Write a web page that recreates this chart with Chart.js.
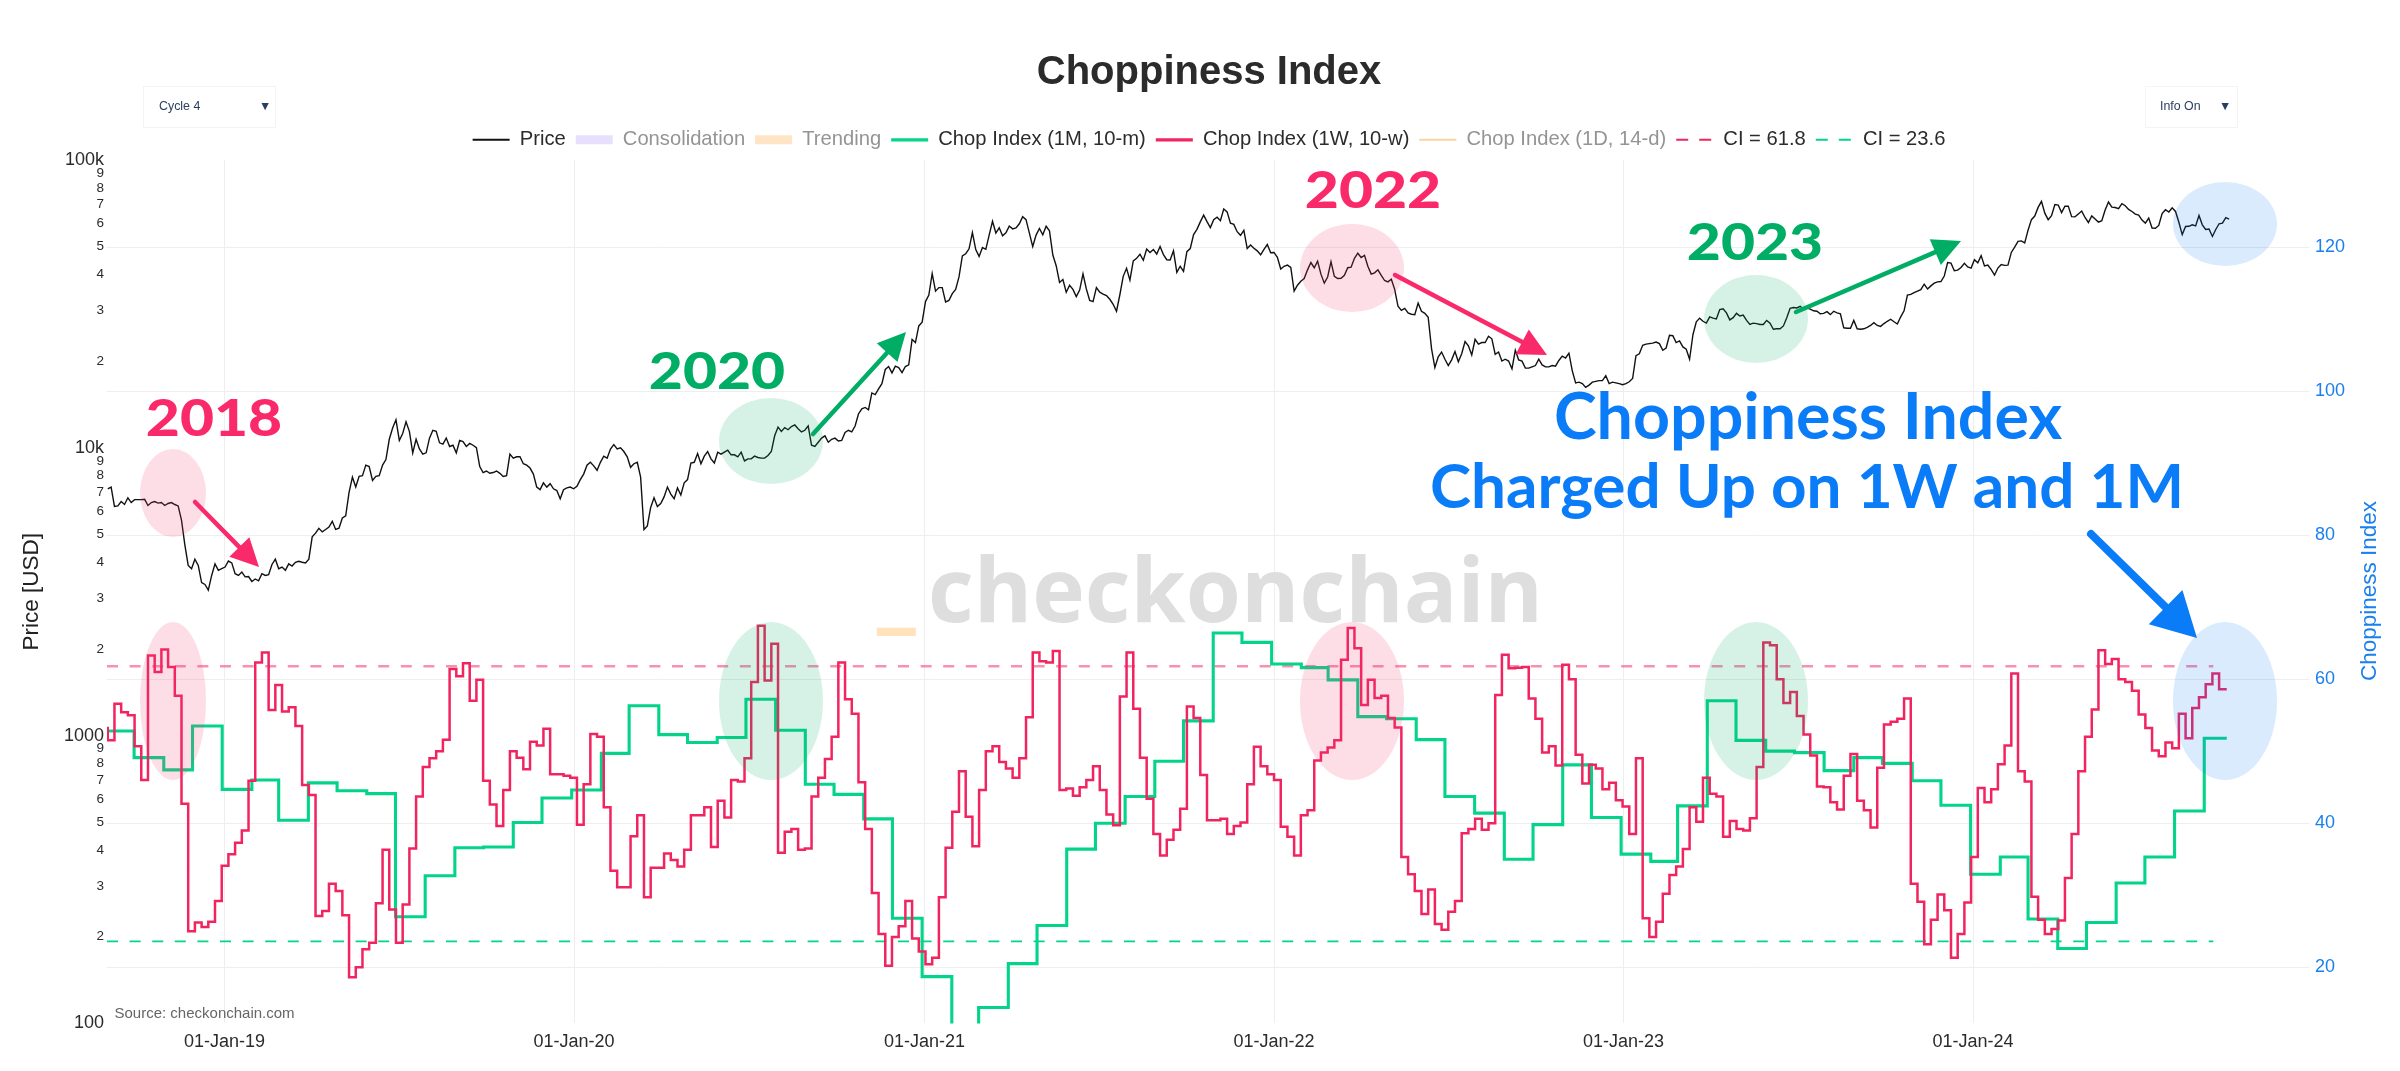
<!DOCTYPE html>
<html><head><meta charset="utf-8">
<style>html,body{margin:0;padding:0;background:#fff;overflow:hidden}canvas{display:block}</style>
<script src="https://cdn.jsdelivr.net/npm/chart.js@4/dist/chart.umd.js"></script>
</head><body><canvas id="c" width="2400" height="1071"></canvas>
<script>
// ---------- data ----------
const priceStart='2018-09-01'; // one value every 7 days from here
const priceWeekly=[7200,6250,6500,6700,6600,6600,6300,6500,6450,6400,6350,5600,3900,4100,3400,3200,3950,3800,
4040,3650,3700,3570,3500,3650,3620,4100,3850,3950,4000,4000,4100,5050,5100,5300,5200,5700,7000,7300,8000,8600,7950,8700,10700,12500,11200,11400,10700,9500,10800,11400,10300,10100,9600,10500,10350,10000,8200,8150,8300,7950,9500,9300,8800,8500,7300,7550,7500,7100,7150,7300,
7350,8100,8900,8350,9350,9900,9900,9700,8550,8900,5200,6200,6250,6750,6900,7250,7550,8850,9550,9350,9150,9650,9650,9450,9300,9000,9150,9250,9200,9700,11800,11750,11850,11650,11500,10200,10450,11000,10700,10550,11300,11350,13100,13800,15500,16000,18700,18200,19000,19150,23800,26500,
32200,40300,36000,32100,34300,39200,47200,55900,46200,48900,61200,58100,55800,57600,60000,62000,50000,57800,58800,46700,37500,34700,35500,35300,35600,32200,34700,33800,31500,34000,42000,44600,47000,49000,48800,50000,45000,48300,42700,48000,55000,60900,61000,62000,61500,66000,59700,54700,49200,49300,46800,50800,
47700,41800,43100,35000,37900,41500,42200,40100,39200,39400,38800,42200,45500,45800,42700,40500,39700,37700,35500,30000,29400,29000,29800,28400,19000,21500,19300,21600,21200,22600,23800,23200,24400,21100,20000,20000,21800,20000,18900,19300,19400,19100,19200,20800,21300,16800,16700,16500,17000,17100,16700,16800,16550,
16950,20900,22700,23000,23300,21800,24600,23200,22400,20300,27400,27500,28500,28000,30400,27800,29300,28900,26800,27000,26800,27100,25900,26500,30500,30600,30300,30300,29800,29300,29000,29400,26100,26000,25900,25900,26600,26600,27000,27950,26900,29900,34100,35000,37000,36500,37700,39500,43800,41400,43700,42100,
43900,42800,41600,42100,43000,47700,52100,51500,62000,68400,65300,64000,69700,69000,63500,64900,63100,63900,60800,67000,68500,67700,69300,66200,64300,60300,58000,59200,67100,68200,60700,58700,59500,64100,57300,54200,60000,63000];
// the value halfway through each of those weeks
const priceMidweek=[7300,6280,6350,6450,6600,6620,6450,6420,6300,6450,6280,4600,3800,3900,3350,3600,3750,3850,
3980,3600,3560,3430,3450,3600,3930,3800,3750,3880,4030,3980,4900,5250,5200,5550,5250,5800,7900,7950,8700,7700,8000,9100,11700,10600,12300,9600,9900,9600,11500,10400,10800,10200,10600,10100,10200,8600,8300,8200,8150,8000,9200,9300,8700,8100,7150,7300,7200,6650,7250,7200,
7750,8700,8650,8900,9200,10250,10000,9300,8800,7900,5350,6700,6400,7300,6650,6850,7750,8900,8800,9700,8850,9500,9800,9450,9650,9150,9350,9200,9400,11000,11400,11550,12000,11350,11900,10100,10800,10450,10800,10600,11500,11900,13650,13550,15300,16700,19150,19200,18250,19400,23200,27300,
33900,35000,36000,32500,35500,46400,49100,48800,49600,54800,55700,54500,58900,58000,63500,55700,54800,54900,56700,42900,38400,36700,33500,40200,32500,36000,34200,32800,29800,39400,38200,45500,44800,47700,47100,46900,44900,40700,41000,49200,57400,64300,58200,63200,67500,60300,56300,56900,50600,48300,48900,47600,
45900,42700,42300,36700,38700,44000,44500,37300,44300,38700,39700,42400,47400,46600,40100,41500,38100,38500,31000,30500,29100,31800,29300,22100,20700,20300,20200,19900,23400,21000,22900,23200,23900,21500,20300,18800,20200,18900,19100,20300,19100,19300,20100,20500,18500,16900,16200,16900,17100,17800,16900,16700,16700,
17400,21200,22900,23100,23000,22200,24500,23500,22000,24700,28200,27100,28200,30200,29400,28300,28700,27700,27100,26800,27700,25800,25900,28300,30700,31000,30600,29900,29200,29700,29800,29200,26000,27700,25800,26200,27200,26400,27500,27400,28500,33900,34600,35400,35600,37300,37800,44000,41200,42300,42500,45000,
46500,43100,39800,43300,43100,49800,52300,57000,63800,71800,62000,70000,65600,69100,63400,66400,60600,62300,61500,71400,68300,70500,67300,64800,61800,62800,57900,65100,65900,66200,55000,58800,59000,59500,57500,57300,60300,62300];

const chop1WStart='2018-08-25'; // one value per week from here
const chop1W=[53.2,51.5,56.6,55.4,55.0,50.7,46.0,63.3,61.0,64.1,61.7,57.7,42.7,25.0,26.2,25.6,26.3,29.2,34.1,35.7,37.3,39.0,45.9,62.3,63.7,55.7,59.2,55.5,56.1,53.5,45.3,43.9,27.1,27.8,31.6,30.6,27.2,18.6,20.0,22.5,23.4,28.9,36.3,28.0,23.4,28.7,36.5,43.7,47.8,49.0,50.0,51.6,61.4,60.4,62.2,57.0,59.9,45.9,42.6,39.6,44.6,50.0,49.1,47.5,51.3,50.8,53.1,46.8,46.8,46.6,46.3,39.8,45.4,52.4,52.0,42.2,33.4,31.1,31.1,38.2,41.1,
29.7,33.8,33.8,35.8,34.9,34.0,36.3,41.1,41.1,42.2,36.7,43.1,40.8,46.0,45.8,49.0,59.6,67.4,59.8,64.9,35.9,38.8,39.2,36.3,36.5,43.7,46.3,48.9,52.0,62.3,57.2,55.2,45.7,39.2,30.3,24.6,20.2,24.2,25.7,29.2,24.0,22.2,20.4,21.3,29.7,36.6,41.6,47.2,40.9,36.8,44.6,50.0,50.7,48.5,47.6,46.3,49.0,54.7,63.7,62.5,62.3,63.9,44.6,44.8,43.8,45.0,46.0,47.9,44.6,41.2,39.7,57.6,63.7,55.9,49.1,43.4,38.5,35.5,37.7,
39.1,42.0,56.2,54.6,46.7,40.4,40.4,40.6,38.5,39.6,40.1,45.4,50.6,47.9,46.8,46.0,39.5,38.1,35.5,41.1,41.8,48.7,49.8,50.5,51.5,62.7,67.1,64.3,56.4,59.9,57.4,57.7,54.6,53.3,35.3,32.9,30.6,27.4,30.8,26.0,25.2,27.7,29.2,38.6,39.2,40.6,39.1,40.0,57.8,63.4,61.5,61.6,61.7,57.3,54.5,49.8,50.7,48.0,62.0,60.0,49.5,45.5,48.1,47.6,44.7,45.6,43.2,42.3,38.5,49.0,26.8,24.2,26.3,30.2,32.8,34.0,36.4,42.2,40.2,
46.3,44.1,43.7,38.1,40.3,39.2,39.0,40.7,47.8,65.1,64.7,60.0,56.7,58.2,54.9,52.3,49.4,45.1,45.0,42.9,41.9,46.6,49.6,43.1,41.8,39.4,47.7,53.7,54.1,54.5,57.3,31.6,29.1,23.2,26.6,30.1,27.9,21.3,24.6,29.0,35.3,44.9,42.9,44.7,48.2,50.8,60.8,47.2,45.8,29.8,26.6,24.6,25.3,26.5,32.4,38.5,47.2,52.0,55.8,64.0,62.1,62.8,60.0,59.6,58.4,55.1,53.2,50.1,49.3,51.2,50.4,55.2,51.8,56.0,57.5,59.3,60.8,58.6];

const chop1MStartYear=2018, chop1MStartMonth=8; // September 2018, then one value per month
const chop1M=[52.8,49.1,47.4,53.5,44.7,46.0,40.4,45.6,44.5,44.1,27.0,32.7,36.6,36.7,40.1,43.5,44.6,49.7,56.3,52.3,51.2,51.9,57.2,52.9,45.4,44.0,40.6,26.8,18.7,10.0,14.4,20.5,25.8,36.4,40.0,43.7,48.6,54.2,66.4,65.1,62.1,61.6,59.9,54.8,54.5,51.6,43.7,41.4,35.0,39.8,48.1,40.8,35.7,34.7,42.4,57.0,51.5,50.0,49.8,47.3,49.1,48.3,45.9,42.5,32.9,35.3,26.7,22.6,26.2,31.7,35.3,41.7,51.8];

const lastChopDate='2024-09-22', ciLinesEnd='2024-09-08';
const ciHigh=61.8, ciLow=23.6;

const xTickDates=['2019-01-01','2020-01-01','2021-01-01','2022-01-01','2023-01-01','2024-01-01'];
const xTickLabels=['01-Jan-19','01-Jan-20','01-Jan-21','01-Jan-22','01-Jan-23','01-Jan-24'];
const priceTickValues=[100,200,300,400,500,600,700,800,900,1000,2000,3000,4000,5000,6000,7000,8000,9000,10000,20000,30000,40000,50000,60000,70000,80000,90000,100000];
const priceTickLabels=['100','2','3','4','5','6','7','8','9','1000','2','3','4','5','6','7','8','9','10k','2','3','4','5','6','7','8','9','100k'];
const chopTickValues=[20,40,60,80,100,120];
const legendNames=['Price','Consolidation','Trending','Chop Index (1M, 10-m)','Chop Index (1W, 10-w)','Chop Index (1D, 14-d)','CI = 61.8','CI = 23.6'];

// ---------- helpers ----------
const EPOCH=Date.UTC(2019,0,1);
const dayOf=s=>(Date.parse(s+'T00:00:00Z')-EPOCH)/864e5;
const priceSeries=[];
priceWeekly.forEach((v,i)=>{const d=dayOf(priceStart)+7*i;priceSeries.push({x:d,y:v},{x:d+3.5,y:priceMidweek[i]});});
const w1=chop1W.map((v,i)=>({x:dayOf(chop1WStart)+7*i,y:v}));
w1.push({x:dayOf(lastChopDate),y:chop1W[chop1W.length-1]});
const m1=chop1M.map((v,i)=>({x:(Date.UTC(chop1MStartYear,chop1MStartMonth+i,1)-EPOCH)/864e5-2.5,y:v}));
m1.push({x:dayOf(lastChopDate),y:chop1M[chop1M.length-1]});
const X0=-122.8, X1=2176.9;

const FONT='"Liberation Sans", Arial, sans-serif';
const BLUE='#1a80ee', GREEN='#04d38a', PINK='#f1245f';
const legendStyle=[
 {c:'#111',w:2,on:1},{c:'#e6e0fd',w:9},{c:'#ffe4c6',w:9},{c:GREEN,w:3.2,on:1},{c:PINK,w:3.2,on:1},{c:'#fbd3a0',w:2},
 {c:'#f1245f',w:2,d:[12,11],on:1},{c:GREEN,w:2,d:[12,11],on:1}];

// ---------- overlay annotations ----------
const ellipses=[
 [173,493,33,44,'p'],[771,441,52,43,'g'],[1352,268,52,44,'p'],[1756,319,52,44,'g'],[2225,224,52,42,'b'],
 [173,701,33,79,'p'],[771,701,52,79,'g'],[1352,701,52,79,'p'],[1756,701,52,79,'g'],[2225,701,52,79,'b']];
const tint={p:'rgba(245,60,110,0.17)',g:'rgba(0,173,100,0.16)',b:'rgba(10,120,245,0.15)'};
const arrows=[
 [195,502,259,567,'#f9296a',4.5,28,14],[813,434,906,332,'#00ad64',4.5,28,14],[1395,275,1547,355,'#f9296a',4.5,28,14],
 [1796,312,1961,241,'#00ad64',4.5,28,14],[2091,534,2197,638,'#0a7cf7',8,44,24]];
const years=[['2018',214,436,'#f9296a'],['2020',717,389,'#00ad64'],['2022',1373,208,'#f9296a'],['2023',1755,260,'#00ad64']];

const overlay={id:'overlay',
 beforeDatasetsDraw(ch){const c=ch.ctx;c.save();
  c.textBaseline='alphabetic';c.textAlign='left';
  c.font='bold 89px "Open Sans"';
  c.fillStyle='#ffe3bd';c.strokeStyle='#ffe3bd';c.lineWidth=2;c.fillText('_',878,621);c.strokeText('_',878,621);
  c.fillStyle='#dedede';c.fillText('checkonchain',928,622);
  c.restore();},
 afterDraw(ch){const c=ch.ctx;c.save();
  for(const e of ellipses){c.fillStyle=tint[e[4]];c.beginPath();c.ellipse(e[0],e[1],e[2],e[3],0,0,Math.PI*2);c.fill();}
  for(const a of arrows){const [x0,y0,x1,y1,col,w,hl,hw]=a;const t=Math.atan2(y1-y0,x1-x0);
   const bx=x1-Math.cos(t)*hl,by=y1-Math.sin(t)*hl;
   c.strokeStyle=col;c.lineWidth=w;c.lineCap='round';c.beginPath();c.moveTo(x0,y0);c.lineTo(bx,by);c.stroke();
   c.fillStyle=col;c.beginPath();c.moveTo(x1,y1);c.lineTo(bx-Math.sin(t)*hw,by+Math.cos(t)*hw);c.lineTo(bx+Math.sin(t)*hw,by-Math.cos(t)*hw);c.closePath();c.fill();}
  c.textBaseline='alphabetic';c.textAlign='center';
  c.font='900 52px Lato';
  for(const y of years){c.save();c.translate(y[1],y[2]);c.scale(1.13,1);c.fillStyle=y[3];c.fillText(y[0],0,0);c.restore();}
  c.fillStyle='#0a7cf7';
  c.font='bold 64.5px Lato';c.fillText('Choppiness Index',1808,439);
  c.font='bold 62px Lato';c.fillText('Charged Up on 1W and 1M',1807,508);
  c.textAlign='left';c.fillStyle='#666';c.font='15px '+FONT;
  c.fillText('Source: checkonchain.com',114.5,1018);
  // dropdowns
  c.strokeStyle='#f4f4f4';c.lineWidth=1;
  c.strokeRect(143.5,86.5,132,41);c.strokeRect(2145.5,86.5,92,41);
  c.fillStyle='#2a3f5f';c.font='12.4px '+FONT;
  c.fillText('Cycle 4',159,110);c.fillText('Info On',2160,110);
  c.fillText('▼',259,110);c.fillText('▼',2219,110);
  // right axis title reads bottom to top
  c.save();c.translate(2370,591);c.rotate(-Math.PI/2);c.textAlign='center';c.textBaseline='middle';
  c.fillStyle=BLUE;c.font='22.5px '+FONT;c.fillText('Choppiness Index',0,0);c.restore();
  c.restore();}
};

new Chart(document.getElementById('c'),{
 type:'line',
 plugins:[overlay],
 data:{datasets:[
  {label:legendNames[0],data:priceSeries,yAxisID:'y',borderColor:'#111',borderWidth:1.4,order:1},
  {label:legendNames[1],data:[],yAxisID:'y2',borderColor:legendStyle[1].c},
  {label:legendNames[2],data:[],yAxisID:'y2',borderColor:legendStyle[2].c},
  {label:legendNames[3],data:m1,yAxisID:'y2',borderColor:GREEN,borderWidth:3.1,stepped:true,order:3},
  {label:legendNames[4],data:w1,yAxisID:'y2',borderColor:PINK,borderWidth:2.5,stepped:true,order:2},
  {label:legendNames[5],data:[],yAxisID:'y2',borderColor:legendStyle[5].c},
  {label:legendNames[6],data:[{x:X0,y:ciHigh},{x:dayOf(ciLinesEnd),y:ciHigh}],yAxisID:'y2',borderColor:'rgba(241,36,95,0.5)',borderWidth:2.4,borderDash:[11,11.6],order:4},
  {label:legendNames[7],data:[{x:X0,y:ciLow},{x:dayOf(ciLinesEnd),y:ciLow}],yAxisID:'y2',borderColor:GREEN,borderWidth:1.8,borderDash:[11,11.6],order:4}
 ]},
 options:{
  responsive:false,devicePixelRatio:1,animation:false,normalized:true,
  layout:{padding:{left:18,right:0,top:0,bottom:0}},
  elements:{point:{radius:0},line:{tension:0,borderJoinStyle:'miter'}},
  events:[],
  plugins:{
   title:{display:true,text:'Choppiness Index',color:'#2b2b2b',font:{family:FONT,size:40,weight:'bold'},padding:{top:49,bottom:22.7}},
   tooltip:{enabled:false},
   legend:{display:true,position:'top',align:'center',onClick:null,
    labels:{usePointStyle:true,pointStyle:'line',pointStyleWidth:37,padding:10,boxHeight:20,
     font:{family:FONT,size:20.2},
     generateLabels:()=>legendNames.map((n,i)=>({text:n,fontColor:legendStyle[i].on?'#2b2b2b':'#949494',strokeStyle:legendStyle[i].c,fillStyle:legendStyle[i].c,lineWidth:legendStyle[i].w,lineDash:legendStyle[i].d||[],pointStyle:'line',hidden:false,datasetIndex:i}))}}
  },
  scales:{
   x:{type:'linear',min:X0,max:X1,
    afterBuildTicks:s=>{s.ticks=xTickDates.map(d=>({value:dayOf(d)}));},
    afterFit:s=>{s.height=47.6;},
    border:{display:false},
    grid:{color:'#eeeeee',lineWidth:1,drawTicks:false},
    ticks:{autoSkip:false,maxRotation:0,padding:8,color:'#2b2b2b',font:{family:FONT,size:18},callback:(v,i)=>xTickLabels[i]}},
   y:{type:'logarithmic',position:'left',min:100,max:100000,
    afterBuildTicks:s=>{s.ticks=priceTickValues.map(v=>({value:v}));},
    afterFit:s=>{s.width=89;},
    border:{display:false},grid:{display:false,drawTicks:false},
    title:{display:true,text:'Price [USD]',color:'#222',font:{family:FONT,size:22.5},padding:0},
    ticks:{autoSkip:false,padding:3,color:'#2b2b2b',
     font:ctx=>({family:FONT,size:[100,1000,10000,100000].includes(ctx.tick&&ctx.tick.value)?18:13.5}),
     callback:(v,i)=>priceTickLabels[i]}},
   y2:{type:'linear',position:'right',min:12.2,max:132.1,
    afterBuildTicks:s=>{s.ticks=chopTickValues.map(v=>({value:v}));},
    afterFit:s=>{s.width=91;},
    border:{display:false},grid:{color:'#eeeeee',lineWidth:1,drawTicks:false},
    ticks:{autoSkip:false,padding:6,color:BLUE,font:{family:FONT,size:18},callback:v=>String(v)}}
  }
 }
});
</script></body></html>
